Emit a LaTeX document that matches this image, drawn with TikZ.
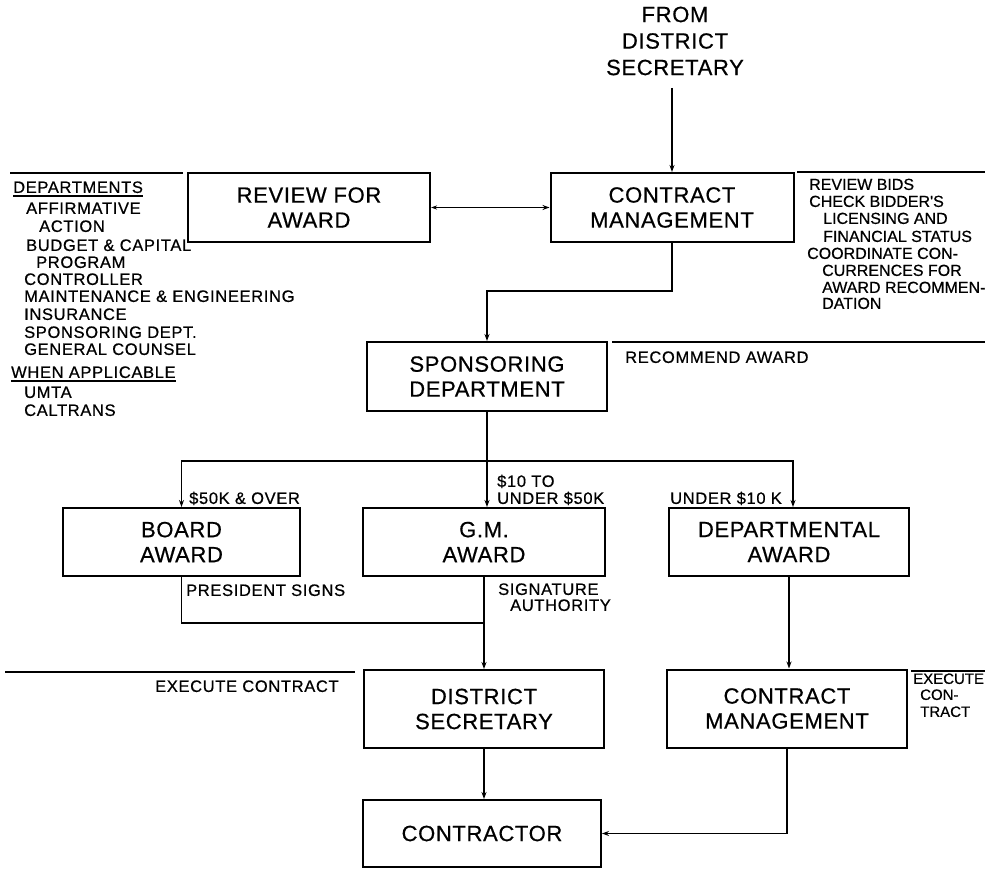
\documentclass[tikz,border=0pt]{standalone}
\usepackage{fontspec}
\setmainfont{Liberation Sans}
\newfontfamily\lettering[LetterSpace=4,FakeBold=0.6]{Liberation Sans}
\newfontfamily\tightlettering[FakeBold=0.6]{Liberation Sans}
\newfontfamily\boxlettering[LetterSpace=3,FakeBold=0.6]{Liberation Sans}
\usetikzlibrary{arrows.meta}
\begin{document}
\begin{tikzpicture}[x=1pt,y=-1pt,
  stepbox/.style={draw, line width=2pt, align=center, inner sep=0,
    font=\boxlettering\fontsize{22}{25}\selectfont},
  note/.style={anchor=west, inner sep=0, text height=11.8pt, text depth=0pt,
    font=\lettering\fontsize{16.5}{17.6}\selectfont},
  tightnote/.style={note, font=\tightlettering\fontsize{16}{17.6}\selectfont},
  link/.style={line width=1.4pt},
  flow/.style={link, -{Stealth[length=7pt,width=5pt]}},
  flowboth/.style={link, {Stealth[length=6pt,width=4pt]}-{Stealth[length=7pt,width=5pt]}},
  rule/.style={line width=1.4pt},
  heading/.style={note}]
\useasboundingbox (0,0) rectangle (993,869);

% process boxes
\node[stepbox, minimum width=242, minimum height=69] (review) at (309,207.5) {REVIEW FOR\\AWARD};
\node[stepbox, minimum width=243, minimum height=69] (cmtop) at (672,207.5) {CONTRACT\\MANAGEMENT};
\node[stepbox, minimum width=240, minimum height=69] (spons) at (487,376.5) {SPONSORING\\DEPARTMENT};
\node[stepbox, minimum width=237, minimum height=68] (board) at (181.5,542) {BOARD\\AWARD};
\node[stepbox, minimum width=242, minimum height=68] (gm) at (484,542) {G.M.\\AWARD};
\node[stepbox, minimum width=240, minimum height=68] (dept) at (789,542) {DEPARTMENTAL\\AWARD};
\node[stepbox, minimum width=240, minimum height=78] (dsec) at (484,709) {DISTRICT\\SECRETARY};
\node[stepbox, minimum width=240, minimum height=78] (cmbot) at (787,708.5) {CONTRACT\\MANAGEMENT};
\node[stepbox, minimum width=238, minimum height=67] (contractor) at (482,833.5) {CONTRACTOR};

% incoming source
\node[font=\boxlettering\fontsize{22}{26.5}\selectfont, align=center, inner sep=0] (from) at (675,41) {FROM\\DISTRICT\\SECRETARY};
\coordinate (fromtail) at (672,88);
\draw[flow] (fromtail) -- (fromtail |- cmtop.north);

% connectors
\draw[flowboth] (review.east) -- (cmtop.west);
\draw[flow] (cmtop.south) -- ++(0,48) -| (spons.north);
\coordinate (bus) at (487,461);
\draw[link] (spons.south) -- (bus);
\draw[flow] (bus) -| (board.north);
\draw[flow] (bus) -| ([xshift=4pt]dept.north);
\draw[flow] (bus) -- (bus |- gm.north);
\coordinate (merge) at (484,623);
\draw[link] (board.south) |- (merge);
\draw[flow] (gm.south) -- (gm.south |- dsec.north);
\draw[flow] (dsec.south) -- (dsec.south |- contractor.north);
\draw[flow] (dept.south) -- (dept.south |- cmbot.north);
\draw[flow] (cmbot.south) |- (contractor.east);

% horizontal rules
\draw[rule] (10,173) -- (183,173);
\draw[rule] (797,172) -- (985,172);
\draw[rule] (612,342) -- (985,342);
\draw[rule] (5,672) -- (355,672);
\draw[rule] (911,671) -- (985,671);

% departments reviewing the award
\node[heading] (depthead) at (13,187) {DEPARTMENTS};
\draw[rule] ([yshift=-3pt]depthead.south west) -- ([yshift=-3pt]depthead.south east);
\node[note] (d1) at (26,208) {AFFIRMATIVE};
\node[note] (d2) at (39,226) {ACTION};
\node[note] (d3) at (26,245) {BUDGET \& CAPITAL};
\node[note] (d4) at (36,262) {PROGRAM};
\node[note] (d5) at (24,279) {CONTROLLER};
\node[note] (d6) at (24,296) {MAINTENANCE \& ENGINEERING};
\node[note] (d7) at (24,314) {INSURANCE};
\node[note] (d8) at (24,332) {SPONSORING DEPT.};
\node[note] (d9) at (24,349) {GENERAL COUNSEL};
\node[heading] (whenhead) at (11,372) {WHEN APPLICABLE};
\draw[rule] ([yshift=-3pt]whenhead.south west) -- ([yshift=-3pt]whenhead.south east);
\node[note] (w1) at (24,392) {UMTA};
\node[note] (w2) at (24,410) {CALTRANS};

% contract management tasks
\node[tightnote] (t1) at (809,184) {REVIEW BIDS};
\node[tightnote] (t2) at (809,201) {CHECK BIDDER'S};
\node[tightnote] (t3) at (823,218) {LICENSING AND};
\node[tightnote] (t4) at (823,236) {FINANCIAL STATUS};
\node[tightnote] (t5) at (807,253) {COORDINATE CON-};
\node[tightnote] (t6) at (822,270) {CURRENCES FOR};
\node[tightnote] (t7) at (822,287) {AWARD RECOMMEN-};
\node[tightnote] (t8) at (822,303) {DATION};

% step and branch labels
\node[note] (recommend) at (625,357) {RECOMMEND AWARD};
\node[note] (over50) at (189,498) {\$50K \& OVER};
\node[note] (mid1) at (497,481) {\$10 TO};
\node[note] (mid2) at (497,498) {UNDER \$50K};
\node[note] (under10) at (670,498) {UNDER \$10 K};
\node[note] (president) at (186,590) {PRESIDENT SIGNS};
\node[note] (sig1) at (498,589) {SIGNATURE};
\node[note] (sig2) at (510,605) {AUTHORITY};
\node[note] (exec) at (155,686) {EXECUTE CONTRACT};
\node[tightnote, font=\tightlettering\fontsize{15}{17}\selectfont] (exec1) at (913,678) {EXECUTE};
\node[tightnote, font=\tightlettering\fontsize{15}{17}\selectfont] (exec2) at (920,694) {CON-};
\node[tightnote, font=\tightlettering\fontsize{15}{17}\selectfont] (exec3) at (920,711) {TRACT};
\end{tikzpicture}
\end{document}
